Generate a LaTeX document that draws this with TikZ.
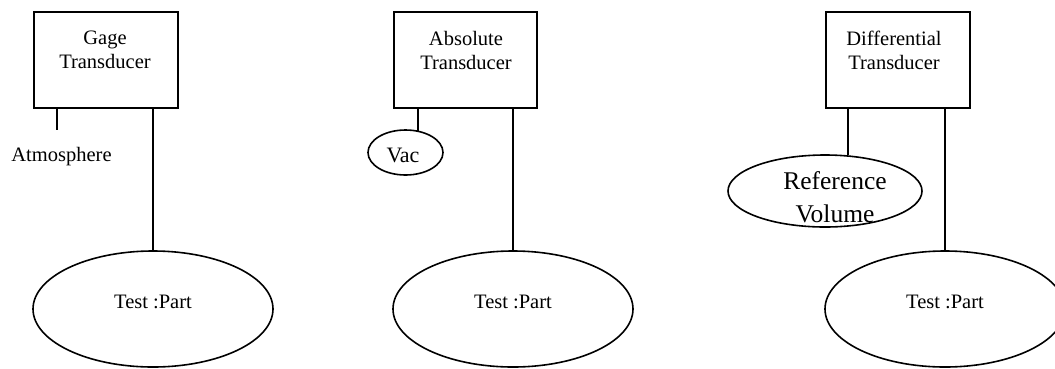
\documentclass[tikz,border=0pt]{standalone}
\usepackage{fontspec}
\setmainfont{Liberation Serif}
\usetikzlibrary{shapes.geometric}
\tikzset{
  tbox/.style={draw, line width=2.4pt, rectangle, minimum width=144pt, minimum height=96pt, inner sep=0pt, anchor=north west},
  tpart/.style={draw, line width=1.6pt, ellipse, minimum width=240pt, minimum height=116pt, inner sep=0pt},
  smallell/.style={draw, line width=1.6pt, ellipse, inner sep=0pt},
  conn/.style={line width=2pt},
  lbl/.style={font=\fontsize{20.5}{24}\selectfont, align=center, inner sep=0pt},
  biglbl/.style={font=\fontsize{25.5}{33}\selectfont, align=center, inner sep=0pt}
}
\begin{document}
\begin{tikzpicture}[x=1pt,y=-1pt]
\useasboundingbox (0,0) rectangle (1055,368);
\begin{scope}
\clip (0,0) rectangle (1055,368);
% Gage
\node[tbox] (gbox) at (33,11) {};
\node[lbl] (gtxt) at (105,50) {Gage\\Transducer};
\coordinate (gatm) at (57,130);
\node[lbl] (atm) at (61.5,157) {Atmosphere};
\node[tpart] (gtest) at (153,309) {};
\node[lbl] (gtestt) at (153,302) {Test :Part};
\draw[conn] (gatm |- gbox.south) -- (gatm);
\draw[conn] (gbox.south -| gtest.north) -- (gtest.north);
% Absolute
\node[tbox, minimum width=143pt] (abox) at (393,11) {};
\node[lbl] (atxt) at (466,50) {Absolute\\Transducer};
\node[smallell, minimum width=75pt, minimum height=45pt] (vac) at (405.5,152.5) {};
\node[font=\fontsize{22}{26}\selectfont, inner sep=0pt] (vact) at (403,155) {Vac};
\node[tpart] (atest) at (513,309) {};
\node[lbl] (atestt) at (513,302) {Test :Part};
\draw[conn] (abox.south -| vac.60) -- (vac.60);
\draw[conn] (abox.south -| atest.north) -- (atest.north);
% Differential
\node[tbox] (dbox) at (825,11) {};
\node[lbl] (dtxt) at (894,50) {Differential\\Transducer};
\node[smallell, minimum width=194pt, minimum height=72pt] (refv) at (825,191) {};
\node[biglbl] (refvt) at (835,197) {Reference\\Volume};
\node[tpart] (dtest) at (945,309) {};
\node[lbl] (dtestt) at (945,302) {Test :Part};
\draw[conn] (dbox.south -| refv.57) -- (refv.57);
\draw[conn] (dbox.south -| dtest.north) -- (dtest.north);
\end{scope}
\end{tikzpicture}
\end{document}
